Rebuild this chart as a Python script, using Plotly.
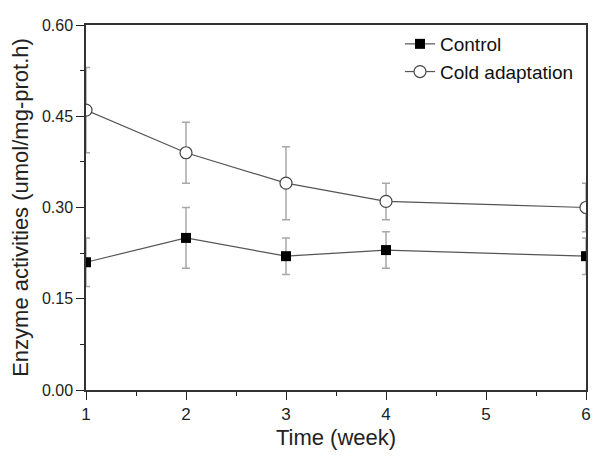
import plotly.graph_objects as go

# Time in weeks
weeks = [1, 2, 3, 4, 6]

control = [0.21, 0.25, 0.22, 0.23, 0.22]
control_err = [0.04, 0.05, 0.03, 0.03, 0.03]

cold = [0.46, 0.39, 0.34, 0.31, 0.30]
cold_err = [0.07, 0.05, 0.06, 0.03, 0.04]

font = "Liberation Sans, Arial, sans-serif"

fig = go.Figure()

fig.add_trace(go.Scatter(
    x=weeks, y=control, name="Control", mode="lines+markers",
    line=dict(color="#555555", width=1.2),
    marker=dict(symbol="square", size=10, color="black"),
    error_y=dict(type="data", array=control_err, color="#a8a8a8", thickness=1.5, width=4),
))

fig.add_trace(go.Scatter(
    x=weeks, y=cold, name="Cold adaptation", mode="lines+markers",
    line=dict(color="#555555", width=1.2),
    marker=dict(symbol="circle", size=12, color="white",
                line=dict(color="#444444", width=1.2)),
    error_y=dict(type="data", array=cold_err, color="#a8a8a8", thickness=1.5, width=4),
))

# page has an 8px body margin, so the figure is shrunk by that much
fig.update_layout(
    width=592, height=450,
    margin=dict(l=78, r=14, t=9, b=68),
    paper_bgcolor="white", plot_bgcolor="white",
    font=dict(family=font, color="#222222", size=16),
    showlegend=True,
    legend=dict(x=0.628, y=1.0, xanchor="left", yanchor="top",
                font=dict(size=19, color="#111111"),
                bgcolor="rgba(0,0,0,0)", tracegroupgap=0),
)

fig.update_xaxes(
    range=[1, 6], tickvals=[1, 2, 3, 4, 5, 6],
    ticks="outside", ticklen=8, tickwidth=1.2, tickcolor="#222222",
    minor=dict(ticks="outside", ticklen=4, dtick=0.5, tickcolor="#222222"),
    showline=True, linecolor="#333333", linewidth=1.5, mirror=True,
    showgrid=False, zeroline=False,
    title=dict(text="Time (week)", font=dict(size=22), standoff=6),
    tickfont=dict(size=17),
)

fig.update_yaxes(
    range=[0, 0.6], tickvals=[0, 0.15, 0.30, 0.45, 0.60], tickformat=".2f",
    ticks="outside", ticklen=8, tickwidth=1.2, tickcolor="#222222",
    minor=dict(ticks="outside", ticklen=4, tick0=0.075, dtick=0.15, tickcolor="#222222"),
    showline=True, linecolor="#333333", linewidth=1.5, mirror=True,
    showgrid=False, zeroline=False,
    title=dict(text="Enzyme activities (umol/mg-prot.h)", font=dict(size=22), standoff=8),
    tickfont=dict(size=16),
)

fig.write_html("out.html")
